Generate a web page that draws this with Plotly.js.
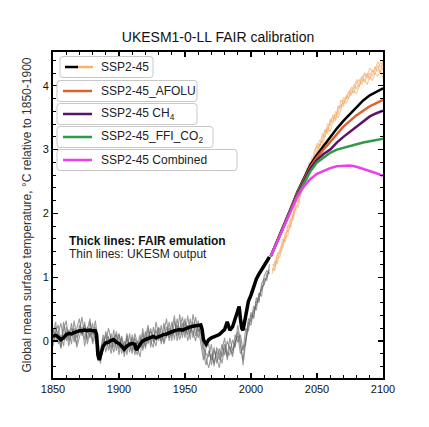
<!DOCTYPE html>
<html>
<head>
<meta charset="utf-8">
<script src="https://cdn.plot.ly/plotly-3.0.1.min.js"></script>
<style>html,body{margin:0;padding:0;background:#fff;}#chart{width:429px;height:427px;}</style>
</head>
<body>
<div id="chart"></div>
<script>
// ---------- DATA ----------
const thinHistYears = [
1850,1852,1854,1856,1858,1860,1862,1864,1866,1868,
1870,1872,1874,1876,1878,1880,1882,1884,1886,1888,
1890,1892,1894,1896,1898,1900,1902,1904,1906,1908,
1910,1912,1914,1916,1918,1920,1922,1924,1926,1928,
1930,1932,1934,1936,1938,1940,1942,1944,1946,1948,
1950,1952,1954,1956,1958,1960,1962,1964,1966,1968,
1970,1972,1974,1976,1978,1980,1982,1984,1986,1988,
1990,1992,1994,1996,1998,2000,2002,2004,2006,2008,
2010,2012,2014];
const ukesmHist1 = [
0.12,0.30,-0.05,0.10,-0.08,0.22,0.05,0.28,-0.02,0.20,
0.35,0.08,0.25,0.02,0.30,0.10,0.22,-0.20,-0.35,-0.05,
0.10,-0.15,0.12,-0.10,0.15,-0.12,0.05,-0.25,0.08,-0.18,
0.10,-0.12,-0.22,0.05,-0.10,0.15,-0.05,0.20,-0.02,0.18,
0.00,0.25,-0.02,0.22,0.05,0.30,0.02,0.35,0.10,0.28,
0.05,0.40,0.12,0.30,0.08,0.32,0.10,-0.20,-0.38,-0.15,
-0.30,-0.10,-0.35,-0.12,-0.25,-0.05,-0.18,-0.22,0.02,-0.10,
0.15,-0.05,-0.30,0.05,0.30,0.25,0.48,0.55,0.72,0.80,
0.92,1.00,1.12];
const ukesmHist2 = [
-0.08,0.15,0.25,-0.10,0.30,0.00,0.18,-0.05,0.32,0.05,
0.15,0.38,0.02,0.22,0.05,0.28,0.00,-0.10,-0.22,0.05,
-0.18,0.08,-0.12,0.18,-0.15,0.10,-0.20,0.00,-0.22,0.12,
-0.15,0.05,-0.12,-0.25,0.12,-0.08,0.20,-0.10,0.22,0.00,
0.20,-0.05,0.28,0.05,0.30,0.00,0.32,0.08,0.42,0.05,
0.30,0.10,0.35,0.05,0.38,0.15,0.20,-0.05,-0.28,-0.42,
-0.20,-0.35,-0.15,-0.30,-0.05,-0.22,0.00,-0.12,-0.20,0.10,
-0.02,0.10,-0.15,0.20,0.15,0.40,0.38,0.62,0.65,0.85,
0.88,1.05,1.08];
const ukesmHist3 = [
0.20,-0.02,0.12,0.28,0.02,0.15,-0.08,0.20,0.10,-0.05,
0.25,0.10,0.30,-0.05,0.15,0.00,0.32,0.05,-0.30,-0.12,
0.15,0.00,-0.20,0.05,0.10,-0.22,0.08,-0.10,0.02,-0.05,
-0.20,0.12,-0.05,0.10,-0.15,0.05,0.25,0.00,-0.10,0.30,
0.10,0.00,0.15,0.35,0.00,0.18,0.40,0.00,0.20,0.38,
0.12,0.25,0.02,0.42,0.20,0.05,0.28,-0.12,-0.20,-0.25,
-0.05,-0.40,-0.10,-0.20,-0.35,-0.10,-0.25,0.05,-0.15,-0.05,
0.25,0.00,-0.38,0.00,0.22,0.45,0.35,0.68,0.60,0.90,
0.98,0.95,1.20];
const ukesmHist4 = [
0.00,0.22,0.08,-0.12,0.18,0.32,0.00,0.10,0.20,-0.10,
0.05,0.22,-0.08,0.18,0.35,-0.05,0.12,-0.28,-0.15,0.10,
-0.05,0.20,0.02,-0.18,0.00,0.12,-0.08,-0.18,0.12,-0.10,
0.05,-0.22,0.00,-0.10,0.20,-0.12,0.08,0.15,0.05,-0.08,
0.22,0.12,-0.05,0.10,0.20,0.08,0.15,0.25,0.02,0.20,
0.35,0.00,0.18,0.15,0.00,0.22,-0.02,-0.30,-0.10,-0.05,
-0.38,-0.15,-0.25,-0.42,-0.15,0.05,-0.30,-0.08,-0.25,0.00,
0.08,-0.20,-0.10,-0.05,0.35,0.30,0.55,0.48,0.75,0.70,
1.02,1.10,1.05];

const fairHistYears = [
1850,1852,1854,1856,1858,1860,1862,1864,1866,1868,
1870,1872,1874,1876,1878,1880,1882,1883,1884,1885,
1886,1888,1890,1892,1894,1896,1898,1900,1902,1904,
1906,1908,1910,1912,1913,1914,1916,1918,1920,1922,
1924,1926,1928,1930,1932,1934,1936,1938,1940,1942,
1944,1946,1948,1950,1952,1954,1956,1958,1960,1962,
1963,1964,1966,1968,1970,1972,1974,1976,1978,1980,
1982,1983,1984,1986,1988,1990,1991,1992,1993,1994,
1996,1998,2000,2002,2004,2006,2008,2010,2012,2014];
const fairHist = [
0.07,0.09,0.06,0.02,0.05,0.10,0.12,0.11,0.13,0.15,
0.16,0.16,0.17,0.16,0.17,0.16,0.16,0.10,-0.22,-0.30,
-0.24,-0.08,-0.03,-0.02,0.01,0.02,-0.02,-0.04,-0.08,-0.13,
-0.08,-0.05,-0.04,-0.05,-0.14,-0.12,-0.05,0.00,0.02,0.04,
0.05,0.07,0.05,0.07,0.08,0.10,0.11,0.13,0.14,0.16,
0.17,0.18,0.17,0.19,0.20,0.22,0.23,0.24,0.25,0.25,
0.18,0.02,-0.05,0.02,0.05,0.07,0.09,0.10,0.14,0.18,
0.30,0.22,0.17,0.22,0.35,0.45,0.54,0.35,0.20,0.17,
0.40,0.62,0.72,0.85,0.97,1.05,1.11,1.17,1.25,1.32];

const thinFutYears = [
2016,2018,2020,2022,2024,2026,2028,2030,2032,2034,
2036,2038,2040,2042,2044,2046,2048,2050,2052,2054,
2056,2058,2060,2062,2064,2066,2068,2070,2072,2074,
2076,2078,2080,2082,2084,2086,2088,2090,2092,2094,
2096,2098,2100];
const ukesmSsp1 = [
1.20,1.18,1.38,1.40,1.60,1.55,1.78,1.92,1.95,2.15,
2.25,2.30,2.55,2.58,2.80,2.75,2.98,3.05,3.02,3.25,
3.20,3.40,3.38,3.55,3.48,3.65,3.70,3.68,3.85,3.80,
3.95,3.88,4.05,4.10,4.02,4.18,4.12,4.20,4.15,4.30,
4.22,4.38,4.30];
const ukesmSsp2 = [
1.05,1.25,1.22,1.45,1.50,1.70,1.72,1.80,2.02,2.05,
2.20,2.42,2.40,2.65,2.62,2.88,2.85,3.00,3.15,3.10,
3.32,3.28,3.48,3.42,3.60,3.55,3.78,3.72,3.80,3.92,
3.85,4.02,3.95,4.05,4.15,4.05,4.20,4.10,4.25,4.18,
4.32,4.20,4.40];
const ukesmSsp3 = [
1.10,1.15,1.30,1.32,1.52,1.62,1.65,1.88,1.90,2.12,
2.10,2.35,2.48,2.45,2.70,2.82,2.78,2.95,3.08,3.05,
3.22,3.35,3.28,3.45,3.55,3.50,3.62,3.78,3.72,3.82,
3.90,3.92,3.88,4.00,4.08,4.10,4.02,4.15,4.08,4.20,
4.15,4.25,4.12];
const ukesmSsp4 = [
1.15,1.10,1.35,1.38,1.45,1.65,1.82,1.78,2.00,2.20,
2.18,2.38,2.50,2.70,2.68,2.78,2.92,3.10,3.05,3.18,
3.30,3.25,3.45,3.50,3.45,3.68,3.65,3.82,3.78,3.88,
3.98,3.95,4.10,3.98,4.12,4.20,4.15,4.28,4.22,4.25,
4.38,4.30,4.25];

const fairFutYears = [2015,2020,2025,2030,2035,2040,2045,2050,2055,2060,2065,2070,2075,2080,2085,2090,2095,2100];
const fairSsp245   = [1.33,1.57,1.81,2.07,2.33,2.55,2.76,2.92,3.06,3.19,3.33,3.45,3.56,3.67,3.77,3.85,3.91,3.96];
const fairAfolu    = [1.33,1.57,1.81,2.07,2.32,2.53,2.73,2.88,3.00,3.11,3.24,3.36,3.45,3.54,3.61,3.68,3.73,3.78];
const fairCh4      = [1.33,1.57,1.80,2.05,2.30,2.50,2.70,2.84,2.93,3.00,3.11,3.20,3.28,3.37,3.45,3.52,3.57,3.61];
const fairFfiCo2   = [1.33,1.57,1.80,2.05,2.28,2.47,2.66,2.80,2.88,2.95,3.00,3.03,3.06,3.08,3.11,3.13,3.15,3.17];
const fairCombined = [1.33,1.56,1.80,2.04,2.26,2.42,2.54,2.62,2.67,2.71,2.74,2.75,2.75,2.73,2.70,2.67,2.63,2.59];

const legendLabels = ['SSP2-45','SSP2-45_AFOLU','SSP2-45 CH<sub>4</sub>','SSP2-45_FFI_CO<sub>2</sub>','SSP2-45 Combined'];
const chartTitle = 'UKESM1-0-LL FAIR calibration';
const yTitle = 'Global mean surface temperature, °C relative to 1850-1900';
const note1 = '<b>Thick lines: FAIR emulation</b>';
const note2 = 'Thin lines: UKESM output';

// ---------- STYLE ----------
const C = {
  gray: 'rgba(90,90,90,0.6)',
  lightOrange: 'rgba(243,165,92,0.6)',
  black: '#000000',
  afolu: '#e0622b',
  ch4: '#5a136c',
  ffi: '#2f9a47',
  comb: '#ec40ea'
};
const FONT = 'Liberation Sans, Arial, sans-serif';

const traces = [];
[ukesmHist1, ukesmHist2, ukesmHist3, ukesmHist4].forEach(v => traces.push({
  x: thinHistYears, y: v, type: 'scatter', mode: 'lines',
  line: {color: C.gray, width: 1.1}, hoverinfo: 'skip', showlegend: false
}));
[ukesmSsp1, ukesmSsp2, ukesmSsp3, ukesmSsp4].forEach(v => traces.push({
  x: thinFutYears, y: v, type: 'scatter', mode: 'lines',
  line: {color: C.lightOrange, width: 1.1}, hoverinfo: 'skip', showlegend: false
}));
traces.push({x: fairHistYears, y: fairHist, type: 'scatter', mode: 'lines', line: {color: C.black, width: 3.5}, showlegend: false});
traces.push({x: fairFutYears, y: fairSsp245, type: 'scatter', mode: 'lines', line: {color: C.black, width: 2.5}, showlegend: false});
traces.push({x: fairFutYears, y: fairAfolu, type: 'scatter', mode: 'lines', line: {color: C.afolu, width: 2.5}, showlegend: false});
traces.push({x: fairFutYears, y: fairCh4, type: 'scatter', mode: 'lines', line: {color: C.ch4, width: 2.5}, showlegend: false});
traces.push({x: fairFutYears, y: fairFfiCo2, type: 'scatter', mode: 'lines', line: {color: C.ffi, width: 2.5}, showlegend: false});
traces.push({x: fairFutYears, y: fairCombined, type: 'scatter', mode: 'lines', line: {color: C.comb, width: 2.5}, showlegend: false});

// ---------- LAYOUT (pixel helpers for decoration) ----------
const W = 429, H = 427, ML = 53, MR = 46, MT = 52, MB = 49;
const PW = W - ML - MR, PH = H - MT - MB;
const px = x => (x - ML) / PW;
const py = y => (H - MB - y) / PH;

function roundRect(x0, y0, x1, y1, r) {
  const a = px(x0), b = px(x1), c = py(y0), d = py(y1);
  const rx = r / PW, ry = r / PH;
  return `M ${a+rx},${c} L ${b-rx},${c} Q ${b},${c} ${b},${c-ry} L ${b},${d+ry} Q ${b},${d} ${b-rx},${d} L ${a+rx},${d} Q ${a},${d} ${a},${d+ry} L ${a},${c-ry} Q ${a},${c} ${a+rx},${c} Z`;
}

const legendRows = [
  {yc: 67,  x0: 60, x1: 153, colors: [C.black, 'rgb(244,180,110)']},
  {yc: 91,  x0: 57, x1: 197, colors: [C.afolu]},
  {yc: 114, x0: 57, x1: 197, colors: [C.ch4]},
  {yc: 137, x0: 57, x1: 213, colors: [C.ffi]},
  {yc: 160, x0: 57, x1: 237, colors: [C.comb]}
];

const shapes = [];
const annotations = [];
legendRows.forEach((r, i) => {
  shapes.push({type: 'path', xref: 'paper', yref: 'paper', path: roundRect(r.x0, r.yc - 10.5, r.x1, r.yc + 10.5, 3),
    line: {color: '#c8c8c8', width: 1}, fillcolor: '#ffffff', layer: 'above'});
  if (r.colors.length === 2) {
    shapes.push({type: 'line', xref: 'paper', yref: 'paper', x0: px(65), x1: px(78), y0: py(r.yc), y1: py(r.yc), line: {color: r.colors[0], width: 2.5}, layer: 'above'});
    shapes.push({type: 'line', xref: 'paper', yref: 'paper', x0: px(78), x1: px(93), y0: py(r.yc), y1: py(r.yc), line: {color: r.colors[1], width: 2.5}, layer: 'above'});
  } else {
    shapes.push({type: 'line', xref: 'paper', yref: 'paper', x0: px(63), x1: px(92), y0: py(r.yc), y1: py(r.yc), line: {color: r.colors[0], width: 2.5}, layer: 'above'});
  }
  annotations.push({xref: 'paper', yref: 'paper', x: px(99), y: py(r.yc), xanchor: 'left', yanchor: 'middle',
    text: legendLabels[i], showarrow: false, font: {family: FONT, size: 12, color: '#222'}});
});
annotations.push({xref: 'paper', yref: 'paper', x: px(67), y: py(241), xanchor: 'left', yanchor: 'middle',
  text: note1, showarrow: false, font: {family: FONT, size: 12, color: '#111'}});
annotations.push({xref: 'paper', yref: 'paper', x: px(67), y: py(254), xanchor: 'left', yanchor: 'middle',
  text: note2, showarrow: false, font: {family: FONT, size: 12, color: '#222'}});

const layout = {
  width: W, height: H,
  margin: {l: ML, r: MR, t: MT, b: MB, pad: 0},
  paper_bgcolor: '#fff', plot_bgcolor: '#fff',
  font: {family: FONT, size: 11, color: '#111'},
  title: {text: chartTitle, x: 0.5, xref: 'paper', xanchor: 'center', y: 1 - 37 / H, yref: 'container', yanchor: 'middle',
    font: {family: FONT, size: 14, color: '#111'}},
  showlegend: false,
  xaxis: {
    range: [1850, 2100], dtick: 50, tick0: 1850, ticks: 'inside', ticklen: 5, tickwidth: 1.2, tickcolor: '#000',
    showline: true, linewidth: 2, linecolor: '#000', mirror: 'ticks', showgrid: false, zeroline: false,
    minor: {dtick: 10, ticks: 'inside', ticklen: 3, tickcolor: '#000', tickwidth: 1, showgrid: false},
    tickfont: {family: FONT, size: 11, color: '#111'}, automargin: false, fixedrange: true
  },
  yaxis: {
    range: [-0.58, 4.53], dtick: 1, tick0: 0, ticks: 'inside', ticklen: 5, tickwidth: 1.2, tickcolor: '#000',
    showline: true, linewidth: 2, linecolor: '#000', mirror: 'ticks', showgrid: false, zeroline: false,
    minor: {dtick: 0.2, ticks: 'inside', ticklen: 3, tickcolor: '#000', tickwidth: 1, showgrid: false},
    tickfont: {family: FONT, size: 11, color: '#111'}, automargin: false, fixedrange: true,
    title: {text: yTitle, standoff: 8, font: {family: FONT, size: 12, color: '#333'}}
  },
  shapes: shapes,
  annotations: annotations
};

Plotly.newPlot('chart', traces, layout, {displayModeBar: false, staticPlot: true});
</script>
</body>
</html>
